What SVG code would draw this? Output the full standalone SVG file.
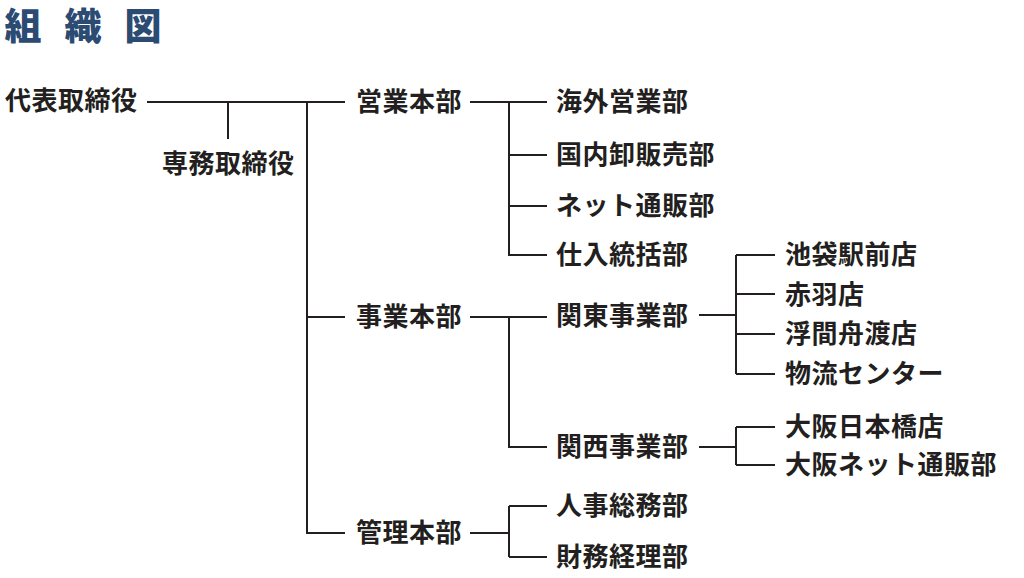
<svg xmlns="http://www.w3.org/2000/svg" width="1024" height="578" viewBox="0 0 1024 578">
<style>
.t{font-family:"Noto Sans CJK JP","Noto Sans CJK SC",sans-serif;font-size:26px;font-weight:700;fill:#231f20;letter-spacing:0.5px}
.title{font-family:"Noto Sans CJK JP","Noto Sans CJK SC",sans-serif;font-size:37px;font-weight:900;fill:#2c4b73;letter-spacing:23px}
.c{fill:none;stroke:#231f20;stroke-width:2}
</style>
<rect width="1024" height="578" fill="#ffffff"/>
<g id="title"><text class="title" x="4.5" y="39.5">組織図</text></g>
<g id="connectors">
<path class="c" d="M147 102H345M228 102V139M307 102V533H345M307 317H345"/>
<path class="c" d="M470 102H547M509 102V255H547M509 155H547M509 206H547"/>
<path class="c" d="M470 317H547M509 317V447H547"/>
<path class="c" d="M470 533H509M509 506V557M509 506H547M509 557H547"/>
<path class="c" d="M699 315H736M736 255V374M736 255H775M736 294H775M736 334H775M736 374H775"/>
<path class="c" d="M699 447H736M736 427V465M736 427H775M736 465H775"/>
</g>
<g id="n-ceo"><text class="t" x="5" y="110">代表取締役</text></g>
<g id="n-senmu"><text class="t" x="162" y="173">専務取締役</text></g>
<g id="n-eigyo"><text class="t" x="356" y="111">営業本部</text></g>
<g id="n-jigyo"><text class="t" x="356" y="326">事業本部</text></g>
<g id="n-kanri"><text class="t" x="356" y="542">管理本部</text></g>
<g id="n-kaigai"><text class="t" x="556" y="111">海外営業部</text></g>
<g id="n-kokunai"><text class="t" x="556" y="164">国内卸販売部</text></g>
<g id="n-net"><text class="t" x="556" y="215">ネット通販部</text></g>
<g id="n-shiire"><text class="t" x="556" y="264">仕入統括部</text></g>
<g id="n-kanto"><text class="t" x="556" y="325">関東事業部</text></g>
<g id="n-kansai"><text class="t" x="556" y="456">関西事業部</text></g>
<g id="n-jinji"><text class="t" x="556" y="515">人事総務部</text></g>
<g id="n-zaimu"><text class="t" x="556" y="566">財務経理部</text></g>
<g id="n-ikebukuro"><text class="t" x="785" y="264">池袋駅前店</text></g>
<g id="n-akabane"><text class="t" x="785" y="304">赤羽店</text></g>
<g id="n-ukima"><text class="t" x="785" y="343">浮間舟渡店</text></g>
<g id="n-butsuryu"><text class="t" x="785" y="383">物流センター</text></g>
<g id="n-nihonbashi"><text class="t" x="785" y="436">大阪日本橋店</text></g>
<g id="n-osakanet"><text class="t" x="785" y="474">大阪ネット通販部</text></g>
</svg>
